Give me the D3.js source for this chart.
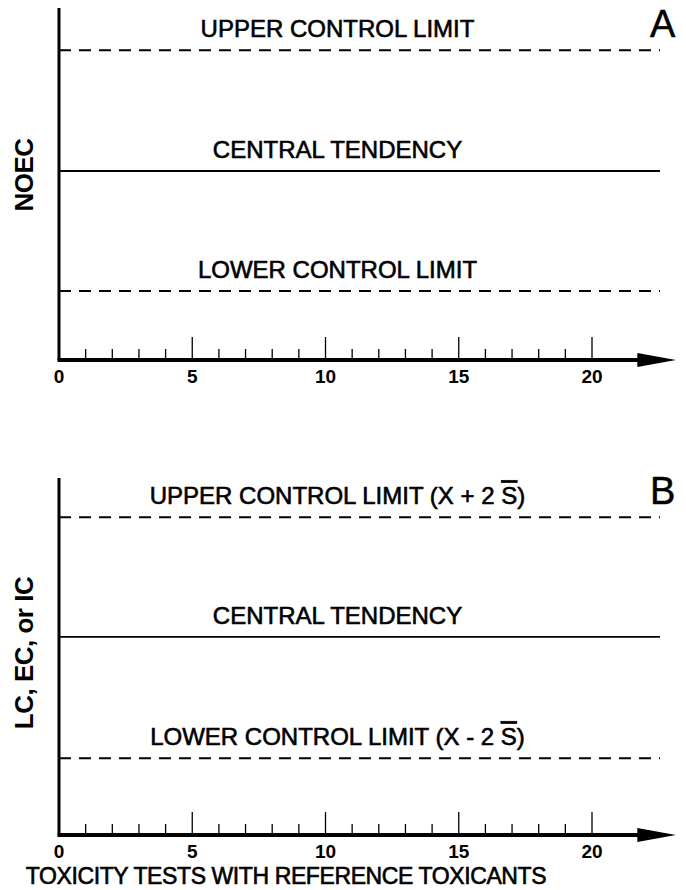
<!DOCTYPE html>
<html>
<head>
<meta charset="utf-8">
<script src="https://cdn.jsdelivr.net/npm/d3@7"></script>
<style>
  body { margin: 0; background: #fff; }
  text { font-family: "Liberation Sans", Arial, sans-serif; fill: #000; }
</style>
</head>
<body>
<div id="chart"></div>
<script>
// control chart data
const panels = ["A", "B"];
const yTitles = ["NOEC", "LC, EC, or IC"];
const lineNames = ["upper", "central", "lower"];
const levelsA = [88.0, 53.7, 19.6];
const levelsB = [89.0, 55.5, 21.5];
const labelsA = ["UPPER CONTROL LIMIT", "CENTRAL TENDENCY", "LOWER CONTROL LIMIT"];
const labelsB = ["UPPER CONTROL LIMIT (X + 2S)", "CENTRAL TENDENCY", "LOWER CONTROL LIMIT (X - 2S)"];
const majorTicks = [0, 5, 10, 15, 20];
const minorTicks = d3.range(0, 21);
const xTitle = "TOXICITY TESTS WITH REFERENCE TOXICANTS";

var width = 686, height = 890;

var svg = d3.select("#chart")
  .append("svg")
    .attr("width", width)
    .attr("height", height);

var x = d3.scaleLinear().domain([0, 20]).range([59, 592]);

// panel vertical ranges
var tops = [8, 478], bottoms = [360, 835];

panels.forEach(function(p, i) {
  var g = svg.append("g");
  var y = d3.scaleLinear().domain([0, 100]).range([bottoms[i], tops[i]]);
  var labels = i == 0 ? labelsA : labelsB;
  var levels = i == 0 ? levelsA : levelsB;

  // control lines
  lineNames.forEach(function(n, j) {
    g.append("line")
      .attr("x1", x(0)).attr("x2", x(22.55))
      .attr("y1", y(levels[j])).attr("y2", y(levels[j]))
      .attr("stroke", "#000")
      .attr("stroke-width", 1.8)
      .attr("stroke-dasharray", n == "central" ? null : "12,8");

    var t = g.append("text")
      .attr("x", x(10.45))
      .attr("y", y(levels[j]) - 13)
      .attr("text-anchor", "middle")
      .attr("stroke", "#000")
      .attr("stroke-width", 0.6)
      .style("font-size", "24px");
    var lab = labels[j];
    if (lab.indexOf("2S") >= 0) {
      var parts = lab.split("2S");
      t.append("tspan").text(parts[0] + "2 ");
      t.append("tspan").text("S").style("text-decoration", "overline");
      t.append("tspan").text(parts[1]);
    } else {
      t.text(lab);
    }
  });

  // panel letter
  g.append("text")
    .attr("x", x(22.65)).attr("y", y(levels[0]) - 13)
    .attr("text-anchor", "middle")
    .attr("stroke", "#000")
    .attr("stroke-width", 0.5)
    .style("font-size", "38px")
    .text(p);

  // y axis
  g.append("line")
    .attr("x1", x(0)).attr("x2", x(0))
    .attr("y1", y(100)).attr("y2", y(0))
    .attr("stroke", "#000").attr("stroke-width", 3);

  // ticks
  g.selectAll(".minor")
    .data(minorTicks)
    .enter().append("line")
      .attr("x1", function(d) { return x(d); })
      .attr("x2", function(d) { return x(d); })
      .attr("y1", y(0))
      .attr("y2", function(d) { return y(0) - (d % 5 == 0 ? 23 : 11); })
      .attr("stroke", "#000").attr("stroke-width", 1.3);

  // x axis with arrow
  g.append("line")
    .attr("x1", x(0) - 1.5).attr("x2", x(22.0))
    .attr("y1", y(0)).attr("y2", y(0))
    .attr("stroke", "#000").attr("stroke-width", 4);
  g.append("path")
    .attr("d", "M" + x(21.7) + "," + (y(0) - 7) + "L" + x(23.15) + "," + y(0) +
               "L" + x(21.7) + "," + (y(0) + 7) + "Z")
    .attr("fill", "#000");

  g.selectAll(".tl")
    .data(majorTicks)
    .enter().append("text")
      .attr("x", function(d) { return x(d); })
      .attr("y", y(0) + 23)
      .attr("text-anchor", "middle")
      .style("font-size", "19px")
      .style("font-weight", "bold")
      .text(function(d) { return d; });

  // y title
  g.append("text")
    .attr("transform", "translate(33," + (i == 0 ? 175 : 653) + ")rotate(-90)")
    .attr("text-anchor", "middle")
    .style("font-size", "26px")
    .style("font-weight", "bold")
    .style("letter-spacing", "-0.5px")
    .text(yTitles[i]);
});

svg.append("text")
  .attr("x", 286).attr("y", 884)
  .attr("text-anchor", "middle")
  .attr("stroke", "#000")
  .attr("stroke-width", 0.6)
  .style("font-size", "23px")
  .style("letter-spacing", "-0.4px")
  .text(xTitle);
</script>
</body>
</html>
